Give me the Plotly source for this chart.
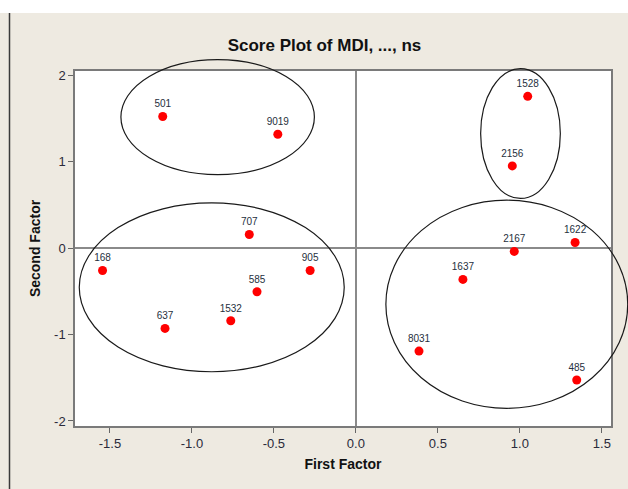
import plotly.graph_objects as go

# ---- data ----
labels = ["501", "9019", "707", "168", "905", "585", "1532", "637",
          "1528", "2156", "1622", "2167", "1637", "8031", "485"]
first_factor = [-1.178, -0.476, -0.650, -1.545, -0.279, -0.603, -0.763, -1.164,
                1.048, 0.954, 1.337, 0.966, 0.653, 0.385, 1.347]
second_factor = [1.523, 1.318, 0.158, -0.258, -0.258, -0.505, -0.840, -0.929,
                 1.757, 0.952, 0.066, -0.038, -0.362, -1.191, -1.526]

# group ellipses (data units): x0, x1, y0, y1
ellipse_x0 = [-1.433, -1.687, 0.761, 0.183]
ellipse_x1 = [-0.253, -0.071, 1.247, 1.658]
ellipse_y0 = [0.852, -1.430, 0.575, -1.853]
ellipse_y1 = [2.181, 0.524, 2.077, 0.555]

x_ticks = [-1.5, -1.0, -0.5, 0.0, 0.5, 1.0, 1.5]
y_ticks = [-2, -1, 0, 1, 2]
x_tick_text = [f"{v:.1f}" for v in x_ticks]
y_tick_text = [f"{v:d}" for v in y_ticks]

X_RANGE = [-1.713, 1.556]
Y_RANGE = [-2.058, 2.050]

W, H = 628, 489
ML, MR, MT, MB = 75, 17, 71, 63
PW, PH = W - ML - MR, H - MT - MB


def to_px(x):
    return (x - X_RANGE[0]) / (X_RANGE[1] - X_RANGE[0])


def to_py(y):
    return (y - Y_RANGE[0]) / (Y_RANGE[1] - Y_RANGE[0])


def pix_x(p):
    return (p - ML) / PW


def pix_y(p):
    return (H - MB - p) / PH


FONT = "Liberation Sans, Arial, sans-serif"
BEIGE = "#EEEAE1"

fig = go.Figure()
fig.add_trace(go.Scatter(
    x=first_factor, y=second_factor, mode="markers+text",
    text=labels, textposition="top center",
    textfont=dict(family=FONT, size=10, color="#263040"),
    marker=dict(color="#FF0000", size=9),
    cliponaxis=False, showlegend=False,
))

shapes = []
for x0, x1, y0, y1 in zip(ellipse_x0, ellipse_x1, ellipse_y0, ellipse_y1):
    shapes.append(dict(type="circle", xref="paper", yref="paper",
                       x0=to_px(x0), x1=to_px(x1), y0=to_py(y0), y1=to_py(y1),
                       line=dict(color="#1a1a1a", width=1.2), layer="above"))

# window chrome: white top band and dark left edge line
shapes.append(dict(type="rect", xref="paper", yref="paper",
                   x0=pix_x(0), x1=pix_x(W), y0=pix_y(13), y1=pix_y(0),
                   fillcolor="white", line=dict(width=0), layer="below"))
shapes.append(dict(type="line", xref="paper", yref="paper",
                   x0=pix_x(9.5), x1=pix_x(9.5), y0=pix_y(13), y1=pix_y(H),
                   line=dict(color="#3a3a3a", width=1.5)))

fig.update_layout(
    width=W, height=H,
    margin=dict(l=ML, r=MR, t=MT, b=MB),
    paper_bgcolor=BEIGE, plot_bgcolor="white",
    shapes=shapes,
    title=dict(text="<b>Score Plot of MDI, ..., ns</b>",
               x=324.5 / W, xanchor="center", xref="container",
               y=1 - 45 / H, yanchor="middle", yref="container",
               font=dict(family=FONT, size=17, color="#111")),
    font=dict(family=FONT, color="#222"),
)
fig.update_xaxes(
    range=X_RANGE, tickvals=x_ticks, ticktext=x_tick_text,
    showgrid=False, zeroline=True, zerolinecolor="#8a8a8a", zerolinewidth=1.5,
    showline=True, mirror=True, linecolor="#7a7a7a", linewidth=1.5,
    ticks="outside", ticklen=5, tickcolor="#666", tickwidth=1,
    tickfont=dict(family=FONT, size=13, color="#2a2a3a"),
    title=dict(text="<b>First Factor</b>", standoff=9,
               font=dict(family=FONT, size=14, color="#111")),
)
fig.update_yaxes(
    range=Y_RANGE, tickvals=y_ticks, ticktext=y_tick_text,
    showgrid=False, zeroline=True, zerolinecolor="#8a8a8a", zerolinewidth=1.5,
    showline=True, mirror=True, linecolor="#7a7a7a", linewidth=1.5,
    ticks="outside", ticklen=5, tickcolor="#666", tickwidth=1,
    tickfont=dict(family=FONT, size=13, color="#2a2a3a"),
    title=dict(text="<b>Second Factor</b>", standoff=10,
               font=dict(family=FONT, size=14, color="#111")),
)

fig.write_html("out.html",
               config={"displayModeBar": False},
               post_script="document.body.style.margin='0';document.body.style.padding='0';")
